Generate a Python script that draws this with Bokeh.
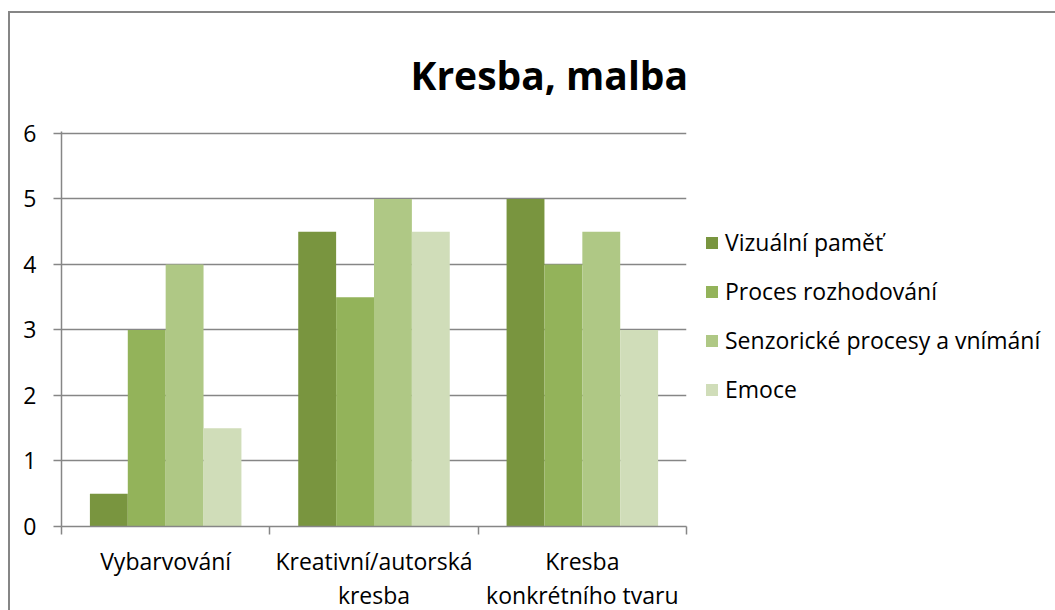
from bokeh.plotting import figure
from bokeh.models import Range1d, FixedTicker, Legend, LegendItem, ColumnDataSource
from bokeh.embed import file_html
from bokeh.resources import INLINE

# ---- data ----
categories = ["Vybarvování", "Kreativní/autorská\nkresba", "Kresba\nkonkrétního tvaru"]
series_names = ["Vizuální paměť", "Proces rozhodování", "Senzorické procesy a vnímání", "Emoce"]
vizualni_pamet = [0.5, 4.5, 5.0]
proces_rozhodovani = [3.0, 3.5, 4.0]
senzoricke_procesy = [4.0, 5.0, 4.5]
emoce = [1.5, 4.5, 3.0]
y_ticks = [0, 1, 2, 3, 4, 5, 6]

series_values = [vizualni_pamet, proces_rozhodovani, senzoricke_procesy, emoce]
colors = ["#79953F", "#93B35A", "#AFC885", "#D0DDB9"]

FONT = "Open Sans"
GRID = "#868686"

p = figure(frame_width=625, frame_height=395, x_range=Range1d(0, 3), y_range=Range1d(0, 6.03),
           output_backend="svg", toolbar_location=None,
           min_border_left=53, min_border_right=0, min_border_top=120, min_border_bottom=84)
p.margin = (11, 0, 0, 8)
p.styles = {"box-shadow": "inset 2px 2px 0 0 #868686"}
p.background_fill_color = "white"
p.border_fill_alpha = 0
p.outline_line_color = None

# title
p.title.text = "Kresba, malba"
p.title.text_font = FONT
p.title.text_font_size = "39px"
p.title.text_font_style = "bold"
p.title.text_color = "black"
p.title.align = "left"
p.title.offset = 349
p.title.standoff = 62

# bars
n = len(series_names)
w = 1.0 / (n + 1.5)
renderers = []
for k, (name, vals, col) in enumerate(zip(series_names, series_values, colors)):
    xs = [i + 0.5 + (k - (n - 1) / 2) * w for i in range(len(categories))]
    src = ColumnDataSource(dict(x=xs, top=vals))
    r = p.vbar(x="x", top="top", width=w, source=src, fill_color=col, line_color=None)
    renderers.append(r)

# axes
xa = p.xaxis[0]
xa.ticker = FixedTicker(ticks=[i + 0.5 for i in range(len(categories))],
                        minor_ticks=list(range(len(categories) + 1)))
xa.major_label_overrides = {i + 0.5: c for i, c in enumerate(categories)}
xa.major_tick_out = 0
xa.major_tick_in = 0
xa.minor_tick_out = 8
xa.minor_tick_in = 0
xa.minor_tick_line_color = GRID
xa.minor_tick_line_width = 1.5
xa.axis_line_color = GRID
xa.axis_line_width = 1.5
xa.major_label_text_font = FONT
xa.major_label_text_font_size = "23px"
xa.major_label_text_color = "black"
xa.major_label_text_line_height = 1.08
xa.major_label_standoff = 10

ya = p.yaxis[0]
ya.ticker = FixedTicker(ticks=y_ticks)
ya.major_tick_out = 8
ya.major_tick_in = 0
ya.minor_tick_out = 0
ya.minor_tick_in = 0
ya.major_tick_line_color = GRID
ya.major_tick_line_width = 1.5
ya.axis_line_color = GRID
ya.axis_line_width = 1.5
ya.major_label_text_font = FONT
ya.major_label_text_font_size = "23px"
ya.major_label_text_color = "black"
ya.major_label_standoff = 17

p.xgrid.visible = False
p.ygrid.ticker = FixedTicker(ticks=y_ticks)
p.ygrid.grid_line_color = GRID
p.ygrid.grid_line_width = 1.5

# legend
legend = Legend(items=[LegendItem(label=nm, renderers=[r]) for nm, r in zip(series_names, renderers)],
                location=(18, 121), glyph_width=15, glyph_height=15, label_height=15,
                spacing=17, padding=0, margin=0, border_line_color=None,
                background_fill_alpha=0, label_text_font=FONT, label_text_font_size="23px",
                label_standoff=6, label_text_color="black")
p.add_layout(legend, "right")

open("out.html", "w").write(file_html(p, INLINE))
